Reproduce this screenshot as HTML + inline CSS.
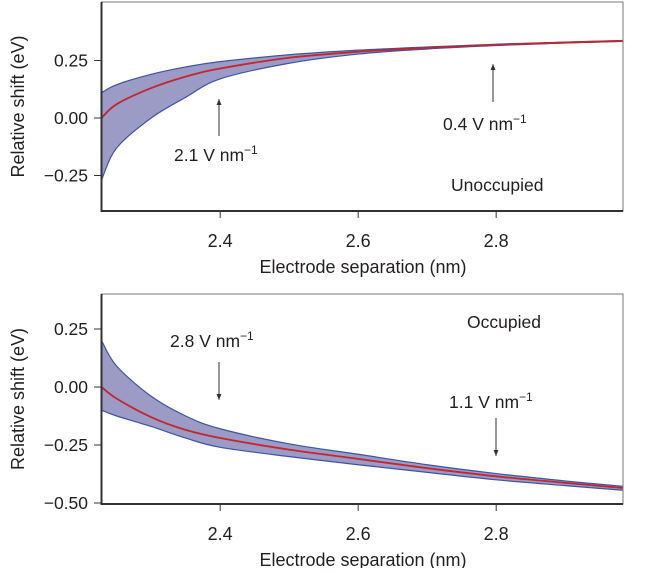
<!DOCTYPE html>
<html><head><meta charset="utf-8"><style>
body{margin:0;background:#fff}
svg text{font-family:"Liberation Sans",sans-serif;fill:#231f20}
</style></head><body>
<svg id="c" width="646" height="568" viewBox="0 0 646 568" xmlns="http://www.w3.org/2000/svg"></svg>
<script>
const xs=[2.228,2.25,2.3,2.35,2.4,2.5,2.6,2.7,2.8,2.9,2.984];
const topMid=[0.0,0.06,0.13,0.18,0.215,0.262,0.288,0.305,0.318,0.328,0.335];
const topUp=[0.11,0.145,0.19,0.222,0.245,0.275,0.295,0.309,0.321,0.33,0.337];
const topLo=[-0.27,-0.13,0.0,0.09,0.17,0.238,0.278,0.3,0.315,0.326,0.333];
const botMid=[0.0,-0.05,-0.13,-0.185,-0.22,-0.27,-0.31,-0.35,-0.385,-0.413,-0.435];
const botUp=[0.2,0.09,-0.04,-0.125,-0.18,-0.245,-0.29,-0.335,-0.373,-0.405,-0.428];
const botLo=[-0.1,-0.125,-0.17,-0.22,-0.26,-0.3,-0.335,-0.368,-0.4,-0.425,-0.445];
const xTicks=[2.4,2.6,2.8];
const topYTicks=[0.25,0.00,-0.25];
const botYTicks=[0.25,0.00,-0.25,-0.50];
const svg=document.getElementById('c');
const NS='http://www.w3.org/2000/svg';
function mk(t,a,p){const e=document.createElementNS(NS,t);for(const k in a)e.setAttribute(k,a[k]);(p||svg).appendChild(e);return e;}
const X=v=>101.5+(v-2.228)*690;
function smooth(pts,start){let d=start?('M'+pts[0][0]+','+pts[0][1]):('L'+pts[0][0]+','+pts[0][1]);
  for(let i=0;i<pts.length-1;i++){const p0=pts[i-1]||pts[i],p1=pts[i],p2=pts[i+1],p3=pts[i+2]||p2;
    const c1=[p1[0]+(p2[0]-p0[0])/6,p1[1]+(p2[1]-p0[1])/6],c2=[p2[0]-(p3[0]-p1[0])/6,p2[1]-(p3[1]-p1[1])/6];
    d+=` C${c1[0]},${c1[1]} ${c2[0]},${c2[1]} ${p2[0]},${p2[1]}`;}
  return d;}
function panel(name,yTop,yBot,y0px,ppu,up,mid,lo,yTicks){
  const Y=v=>y0px-v*ppu;
  const g=mk('g',{});
  
  
  const upP=xs.map((x,i)=>[X(x),Y(up[i])]);
  const loP=xs.map((x,i)=>[X(x),Y(lo[i])]).reverse();
  const band=mk('path',{d:smooth(upP,true)+' '+smooth(loP,false)+'Z',fill:'#9b9bc6',stroke:'none'},g);
  
  
  [upP,loP].forEach((p,j)=>{const l=mk('path',{d:smooth(p,true),fill:'none',stroke:'#3b55a2','stroke-width':1.2},g);
  
  });
  const m=mk('path',{d:smooth(xs.map((x,i)=>[X(x),Y(mid[i])]),true),fill:'none',stroke:'#c4262e','stroke-width':1.8},g);
  
  
  mk('rect',{x:101.5,y:yTop,width:521.5,height:yBot-yTop,fill:'none',stroke:'#777','stroke-width':1},g);
  mk('line',{x1:101.5,y1:yTop,x2:101.5,y2:yBot+1,stroke:'#333','stroke-width':2},g);
  mk('line',{x1:100.5,y1:yBot,x2:623,y2:yBot,stroke:'#333','stroke-width':2},g);
  yTicks.forEach(v=>{mk('line',{x1:94,y1:Y(v),x2:101,y2:Y(v),stroke:'#333'},g);
    const t=mk('text',{x:88,y:Y(v)+6,'text-anchor':'end','font-size':17.5},g);t.textContent=v.toFixed(2).replace('-','−');
    });
  xTicks.forEach(v=>{mk('line',{x1:X(v),y1:yBot,x2:X(v),y2:yBot+7,stroke:'#333'},g);
    const t=mk('text',{x:X(v),y:yBot+36,'text-anchor':'middle','font-size':18},g);t.textContent=v.toFixed(1);
    });
  const xt=mk('text',{x:363,y:yBot+62,'text-anchor':'middle','font-size':18},g);xt.textContent='Electrode separation (nm)';
  
  const cy=(yTop+yBot)/2;
  const yt=mk('text',{x:0,y:0,'text-anchor':'middle','font-size':18,transform:`translate(24,${cy}) rotate(-90)`},g);yt.textContent='Relative shift (eV)';
  
  return g;
}
panel('unoccupied',2,211,118,230,topUp,topMid,topLo,topYTicks);
panel('occupied',294,504,387,232,botUp,botMid,botLo,botYTicks);
function label(x,y,txt,sup,name){const t=mk('text',{x:x,y:y,'font-size':17.5});t.textContent=txt;
  if(sup){const s=mk('tspan',{'font-size':12,dy:-7},t);s.textContent=sup;}
  }
function arrow(x,y1,y2,name){const g=mk('g',{});
  mk('line',{x1:x,y1:y1,x2:x,y2:y2,stroke:'#333','stroke-width':1},g);
  const d=y2<y1?-1:1;mk('polygon',{points:`${x-2.5},${y2-d*6} ${x+2.5},${y2-d*6} ${x},${y2}`,fill:'#333'},g);}
label(174,161,'2.1 V nm','−1','field-label-2.1');arrow(219,136,99,'arrow-2.1');
label(443,130,'0.4 V nm','−1','field-label-0.4');arrow(493,102,64,'arrow-0.4');
label(451,191,'Unoccupied','','panel-label-unoccupied');
label(170,347,'2.8 V nm','−1','field-label-2.8');arrow(219,362,400,'arrow-2.8');
label(467,328,'Occupied','','panel-label-occupied');
label(449,408,'1.1 V nm','−1','field-label-1.1');arrow(496,418,456,'arrow-1.1');
</script>
</body></html>
